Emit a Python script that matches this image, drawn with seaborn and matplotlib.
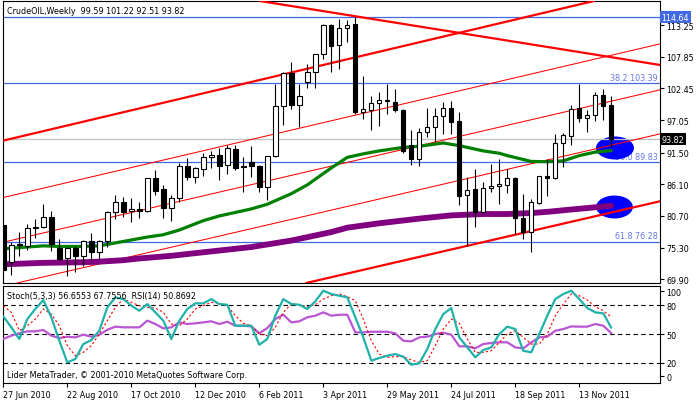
import numpy as np
import pandas as pd
import matplotlib
matplotlib.use("Agg")
import matplotlib.pyplot as plt
import matplotlib.transforms as mtransforms
from matplotlib.patches import Ellipse
import seaborn as sns

sns.set_theme(style="white")
plt.rcParams['font.family'] = ['DejaVu Sans']
FS = 5.8

# ---------------- data (weekly candles, bar 0 = 27 Jun 2010) ----------------
opens = [79.1, 72.8, 75.8, 75.6, 78.9, 78.8, 80.6, 75.3, 73.5, 75.3,
         73.9, 76.5, 74.5, 76.5, 81.3, 83.0, 81.5, 81.9, 81.5, 87.1,
         85.3, 82.0, 83.7, 89.2, 87.3, 88.7, 90.7, 91.1, 89.4, 92.2,
         89.3, 89.85, 89.3, 85.6, 90.9, 99.4, 105.1, 99.7, 103.6, 105.2,
         108.3, 113.3, 109.9, 112.7, 113.4, 98.4, 98.8, 100.0, 100.5, 100.2,
         98.8, 92.8, 90.5, 95.0, 95.8, 97.7, 99.1, 96.9, 84.2, 85.3,
         81.4, 85.4, 85.8, 86.0, 87.2, 80.3, 77.9, 82.9, 87.6, 87.1,
         93.1, 94.4, 99.1, 97.5, 97.9, 101.3, 99.59]
highs = [79.6, 76.2, 77.9, 79.3, 80.2, 82.7, 81.5, 76.8, 75.4, 75.5,
         76.6, 77.8, 76.6, 81.55, 84.3, 83.9, 83.8, 83.0, 87.2, 88.55,
         86.0, 84.3, 89.7, 90.6, 89.0, 91.45, 91.7, 92.25, 92.8, 92.8,
         90.7, 92.7, 89.4, 90.9, 103.2, 105.2, 107.0, 103.2, 106.6, 108.4,
         113.5, 113.4, 114.3, 114.1, 114.64, 104.5, 101.2, 101.8, 103.2, 102.4,
         98.9, 95.4, 95.7, 99.2, 99.1, 100.2, 100.4, 98.4, 87.3, 88.7,
         86.45, 89.6, 90.4, 88.7, 87.3, 84.45, 83.6, 87.6, 90.4, 94.7,
         94.86, 99.6, 103.2, 98.7, 101.8, 102.4, 101.22]
lows = [71.1, 70.6, 73.9, 74.9, 77.0, 78.6, 74.7, 73.2, 70.4, 71.2,
        72.2, 73.1, 73.4, 75.35, 80.2, 80.6, 79.6, 80.3, 81.3, 84.2,
        80.35, 79.9, 83.1, 86.9, 86.4, 87.5, 88.8, 86.9, 87.9, 88.6,
        84.8, 87.3, 84.8, 83.5, 90.8, 96.2, 98.95, 95.8, 102.5, 102.5,
        107.5, 105.2, 105.8, 110.4, 98.1, 97.2, 95.3, 96.1, 98.1, 98.4,
        91.4, 89.4, 89.3, 94.1, 93.3, 94.7, 94.7, 82.6, 75.6, 78.9,
        81.3, 84.8, 82.7, 84.7, 77.6, 76.8, 74.6, 82.8, 84.05, 87.0,
        89.0, 92.8, 96.7, 95.1, 96.95, 97.1, 92.51]
closes = [71.4, 75.8, 76.0, 78.7, 78.7, 80.6, 75.9, 73.4, 75.2, 73.9,
          76.5, 74.5, 76.5, 81.3, 83.0, 81.4, 81.9, 81.5, 87.1, 85.0,
          82.0, 83.7, 89.2, 87.3, 88.8, 90.7, 91.1, 89.2, 92.25, 88.8,
          89.1, 89.2, 85.6, 90.9, 99.4, 105.1, 99.6, 101.1, 105.2, 108.3,
          113.3, 109.75, 112.7, 113.3, 98.4, 99.0, 99.9, 100.5, 100.3, 98.7,
          91.7, 90.5, 95.0, 95.8, 97.7, 99.1, 96.8, 84.1, 85.2, 81.4,
          85.4, 85.8, 86.15, 87.2, 80.3, 78.0, 83.1, 87.5, 87.2, 93.15,
          94.5, 98.95, 97.5, 97.9, 101.3, 99.4, 93.82]

# moving averages (bar index, value)
ma_green_bar = [0, 5, 7, 10, 12, 14, 16, 18, 20, 22, 25, 27, 31, 33, 36, 38, 41, 43,
                45, 47, 50, 52, 55, 57, 60, 62, 63, 66, 68, 70, 72, 74, 76]
ma_green_val = [75.1, 75.6, 75.5, 75.5, 75.6, 76.1, 76.6, 77.1, 77.5, 78.3, 79.9, 80.7,
                81.9, 82.7, 84.5, 86.0, 88.9, 90.7, 91.3, 91.8, 92.4, 92.6, 93.15, 92.7,
                91.8, 91.4, 91.0, 90.0, 89.96, 90.1, 91.0, 91.6, 91.84]
ma_purple_bar = [0, 5, 10, 12, 15, 17, 21, 25, 31, 36, 41, 43, 47, 52, 56, 60, 63,
                 66, 68, 71, 73, 76]
ma_purple_val = [72.45, 72.7, 72.8, 72.9, 73.15, 73.45, 73.9, 74.5, 75.4, 76.5, 77.95,
                 78.7, 79.45, 80.25, 80.8, 81.03, 81.03, 81.2, 81.4, 81.8, 82.05, 82.45]

# oscillators
stoch_main = [68.5, 57, 44.8, 65.7, 76.2, 85.6, 67.5, 43, 20.3, 23.8,
              39.5, 43.7, 53.5, 77.9, 88.4, 86.6, 79.7, 74.4, 81.4, 72.7,
              64, 44.8, 64, 76.2, 82.1, 82.1, 86.6, 81.4, 80.7, 58.7,
              58.7, 58.7, 38.8, 44.8, 69.2, 86.6, 81.4, 80.7, 76.2, 84.2,
              95.4, 91.9, 90.1, 88.4, 67.5, 46.5, 22.1, 24.9, 27.3, 29,
              26.3, 17.9, 19.3, 34.3, 55.2, 70.9, 77.2, 46.5, 36, 25.6,
              33.2, 36, 50, 57.7, 55.2, 32.5, 30.8, 50, 69.2, 86.6,
              91.9, 95.4, 86.6, 77.2, 72.7, 71.6, 56.66]
stoch_signal = [79.7, 72.7, 53.5, 58.7, 65.7, 76.2, 70.9, 58.7, 37.8, 27.3,
                30.8, 37.8, 50, 64, 77.9, 86.6, 83.2, 79.7, 77.9, 77.2,
                72.7, 60.5, 58.7, 65.7, 76.2, 79.7, 83.2, 82.1, 79.7, 69.2,
                61.2, 58.7, 50, 48.3, 57, 72.7, 81.4, 80.7, 78.6, 80.7,
                86.6, 90.1, 91.9, 89.1, 84.9, 65.7, 43, 29, 25.6, 26.3,
                26.3, 22.8, 20.3, 22.1, 37.8, 55.2, 65.7, 61.2, 44.8, 30.8,
                30.8, 32.5, 41.3, 50, 53.5, 46.5, 39.5, 39.5, 50, 69.2,
                81.4, 91.9, 90.1, 85.6, 78.6, 74.4, 67.76]
rsi = [44.8, 48.3, 50.7, 52.8, 52.8, 54.2, 48.3, 45.8, 47.2, 46.5,
       49.3, 47.2, 49.3, 54.5, 57.7, 57, 57, 57, 64, 60.5,
       55.9, 57, 62.2, 60.5, 61.2, 62.2, 63.3, 60.5, 62.9, 58.7,
       58.7, 58, 50.7, 56.3, 65.7, 70.2, 62.2, 63.3, 67.5, 69.2,
       72.7, 69.2, 70.2, 70.2, 51.7, 51.7, 52.4, 52.4, 52.4, 50.7,
       43, 42.3, 46.5, 47.2, 50, 51.4, 49.3, 37.1, 37.1, 35,
       39.5, 40.6, 41.3, 41.3, 36, 35, 41.3, 46.5, 47.2, 53.5,
       55.2, 58, 57.7, 57.7, 60.5, 58.7, 50.87]

# trend lines: two (bar, price) anchors each
trend_thick = {
    "upper": [(0, 93.56), (60, 112.92)],
    "lower": [(0, 57.32), (60, 76.24)],
    "down": [(40, 115.65), (80, 106.92)],
}
trend_thin = {
    "t1": [(0, 83.85), (60, 103.01)],
    "t2": [(0, 76.22), (60, 95.22)],
    "t3": [(0, 68.72), (60, 87.71)],
}
fib_levels = [114.64, 103.39, 89.83, 76.28]
fib_labels = ["", "38.2 103.39", "50.0 89.83", "61.8 76.28"]
last_price = 93.82
ellipse_centers = [(76.46, 92.3), (76.4, 82.23)]
ellipse_sizes = [(4.75, 3.92), (4.6, 3.92)]

price_ticks = [113.25, 107.85, 102.45, 97.05, 91.50, 86.10, 80.70, 75.30, 69.90]
osc_tick_pos = [95, 80, 50, 20, 6]
osc_tick_labels = ["100", "80", "50", "20", "0"]
osc_levels = [80, 50, 20]
date_tick_bars = [0, 8, 16, 24, 32, 40, 48, 56, 64, 72]
date_tick_labels = ["27 Jun 2010", "22 Aug 2010", "17 Oct 2010", "12 Dec 2010",
                    "6 Feb 2011", "3 Apr 2011", "29 May 2011", "24 Jul 2011",
                    "18 Sep 2011", "13 Nov 2011"]

# ---------------- figure ----------------
W, H = 700, 402
fig = plt.figure(figsize=(W / 100, H / 100), dpi=100)
fig.patch.set_facecolor("white")
ax = fig.add_axes([3 / W, 1 - 284 / H, 657 / W, 282 / H])
ax2 = fig.add_axes([3 / W, 1 - 384 / H, 657 / W, 97 / H])

for a in (ax, ax2):
    a.set_facecolor("white")
    for s in a.spines.values():
        s.set_color("black")
        s.set_linewidth(0.8)
    a.set_xlim(-0.04, 82.09)

ax.set_ylim(69.26, 117.38)
ax2.set_ylim(-1.3, 100.3)

idx = np.arange(len(opens))

# horizontal fib lines and their labels
blended = mtransforms.blended_transform_factory(ax.transAxes, ax.transData)
for lvl, lab in zip(fib_levels, fib_labels):
    ax.axhline(lvl, color="#4169E1", lw=0.9, zorder=2)
    if lab:
        ax.text(0.997, lvl + 0.25, lab, transform=blended, ha="right", va="bottom",
                fontsize=FS, color="#6478E6", zorder=1)
ax.axhline(last_price, color="#C0C0C0", lw=0.9, zorder=2)

# ellipses (above labels, below lines and candles)
for (cx, cy), (ew, eh) in zip(ellipse_centers, ellipse_sizes):
    ax.add_patch(Ellipse((cx, cy), ew, eh, facecolor="#0000FF", edgecolor="none", zorder=1.5))

# trend lines
for pts in trend_thick.values():
    ax.axline(pts[0], pts[1], color="#FF0000", lw=1.6, zorder=3)
for pts in trend_thin.values():
    ax.axline(pts[0], pts[1], color="#FF0000", lw=0.75, zorder=3)

# moving averages
sns.lineplot(x=ma_purple_bar, y=ma_purple_val, ax=ax, color="#800080", lw=4.2,
             sort=False, estimator=None, legend=False, zorder=4)
sns.lineplot(x=ma_green_bar, y=ma_green_val, ax=ax, color="#008000", lw=2.3,
             sort=False, estimator=None, legend=False, zorder=4)

# candles
o = np.array(opens); c = np.array(closes)
hi = np.array(highs); lo = np.array(lows)
ax.vlines(idx, lo, hi, color="black", lw=0.8, zorder=5)
body_bottom = np.minimum(o, c)
body_h = np.maximum(np.abs(c - o), 0.12)
fills = ["white" if cc >= oo else "black" for oo, cc in zip(o, c)]
ax.bar(idx, body_h, bottom=body_bottom, width=0.55, color=fills, edgecolor="black",
       linewidth=0.8, zorder=6)

# price axis on right
ax.yaxis.tick_right()
ax.set_yticks(price_ticks)
ax.set_yticklabels([f"{t:.2f}" for t in price_ticks])
ax.tick_params(axis="y", which="both", right=True, left=False, length=3, width=0.8,
               pad=1.5, labelsize=FS, colors="black", direction="out")
ax.set_xticks([])
ax.set_xlabel(""); ax.set_ylabel("")

ax.text(1.0025, 114.64, "114.64", transform=blended, ha="left", va="center", fontsize=FS,
        color="white", zorder=10, clip_on=False,
        bbox=dict(boxstyle="square,pad=0.2", fc="#4169E1", ec="none"))
ax.text(1.0025, last_price, "93.82", transform=blended, ha="left", va="center",
        fontsize=FS, color="white", zorder=10, clip_on=False,
        bbox=dict(boxstyle="square,pad=0.2", fc="black", ec="none"))

fig.text(7 / W, 1 - 11 / H, "CrudeOIL,Weekly  99.59 101.22 92.51 93.82",
         fontsize=FS, color="black", va="center", ha="left")

# ---------------- oscillator panel ----------------
for lv in osc_levels:
    ax2.axhline(lv, color="black", lw=0.8, ls=(0, (4, 3)), zorder=1)
sns.lineplot(x=idx, y=rsi, ax=ax2, color="#BA55D3", lw=1.6, sort=False,
             estimator=None, legend=False, zorder=3)
sns.lineplot(x=idx, y=stoch_signal, ax=ax2, color="#FF0000", lw=0.8, ls=(0, (2, 2)),
             sort=False, estimator=None, legend=False, zorder=3)
sns.lineplot(x=idx, y=stoch_main, ax=ax2, color="#20B2AA", lw=1.6, sort=False,
             estimator=None, legend=False, zorder=4)

ax2.yaxis.tick_right()
ax2.set_yticks(osc_tick_pos)
ax2.set_yticklabels(osc_tick_labels)
ax2.tick_params(axis="y", right=True, left=False, length=3, width=0.8, pad=1.5,
                labelsize=FS, colors="black", direction="out")
ax2.set_xticks(date_tick_bars)
ax2.set_xticklabels(date_tick_labels, ha="left")
ax2.tick_params(axis="x", bottom=True, length=3, width=0.8, pad=2, labelsize=FS,
                colors="black", direction="out")
ax2.set_xlabel(""); ax2.set_ylabel("")

fig.text(7 / W, 1 - 297 / H, "Stoch(5,3,3) 56.6553 67.7556  RSI(14) 50.8692",
         fontsize=FS, color="black", va="center", ha="left")
fig.text(7 / W, 1 - 376 / H, "Lider MetaTrader, \u00a9 2001-2010 MetaQuotes Software Corp.",
         fontsize=FS, color="black", va="center", ha="left")

fig.savefig("out.png", dpi=100, facecolor="white")
